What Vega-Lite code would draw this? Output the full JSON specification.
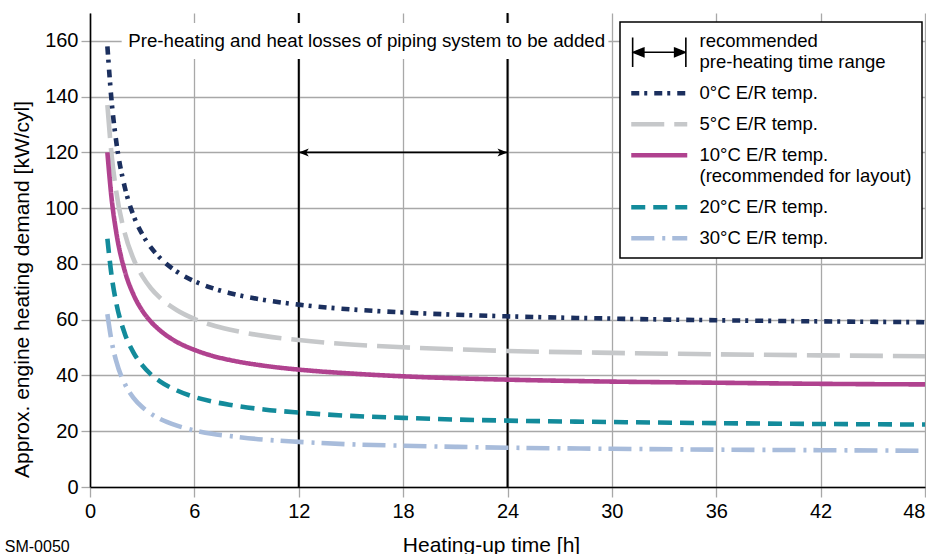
{
  "$schema": "https://vega.github.io/schema/vega-lite/v6.json",
  "width": 835,
  "height": 474,
  "autosize": {"type": "none"},
  "padding": {"left": 90, "top": 13, "right": 1, "bottom": 67},
  "config": {
    "font": "Liberation Sans",
    "view": {"stroke": null},
    "text": {"font": "Liberation Sans"}
  },
  "datasets": {
    "curves": [
      {"s":"5","h":1,"v":137},{"s":"5","h":1.25,"v":118.6},{"s":"5","h":1.5,"v":106.3},{"s":"5","h":2,"v":91},{"s":"5","h":2.5,"v":81.8},{"s":"5","h":3,"v":75.7},{"s":"5","h":3.5,"v":71.3},{"s":"5","h":4,"v":68},{"s":"5","h":5,"v":63.4},{"s":"5","h":6,"v":60.3},{"s":"5","h":7,"v":58.1},{"s":"5","h":8,"v":56.5},{"s":"5","h":10,"v":54.2},{"s":"5","h":12,"v":52.7},{"s":"5","h":15,"v":51.1},{"s":"5","h":18,"v":50.1},{"s":"5","h":21,"v":49.4},{"s":"5","h":24,"v":48.8},{"s":"5","h":30,"v":48.1},{"s":"5","h":36,"v":47.6},{"s":"5","h":42,"v":47.2},{"s":"5","h":48,"v":46.9},
      {"s":"30","h":1,"v":62},{"s":"30","h":1.25,"v":52},{"s":"30","h":1.5,"v":45.3},{"s":"30","h":2,"v":37},{"s":"30","h":2.5,"v":32},{"s":"30","h":3,"v":28.7},{"s":"30","h":3.5,"v":26.3},{"s":"30","h":4,"v":24.5},{"s":"30","h":5,"v":22},{"s":"30","h":6,"v":20.3},{"s":"30","h":7,"v":19.1},{"s":"30","h":8,"v":18.3},{"s":"30","h":10,"v":17},{"s":"30","h":12,"v":16.2},{"s":"30","h":15,"v":15.3},{"s":"30","h":18,"v":14.8},{"s":"30","h":21,"v":14.4},{"s":"30","h":24,"v":14.1},{"s":"30","h":30,"v":13.7},{"s":"30","h":36,"v":13.4},{"s":"30","h":42,"v":13.2},{"s":"30","h":48,"v":13},
      {"s":"20","h":1,"v":89},{"s":"20","h":1.25,"v":75.4},{"s":"20","h":1.5,"v":66.3},{"s":"20","h":2,"v":55},{"s":"20","h":2.5,"v":48.2},{"s":"20","h":3,"v":43.7},{"s":"20","h":3.5,"v":40.4},{"s":"20","h":4,"v":38},{"s":"20","h":5,"v":34.6},{"s":"20","h":6,"v":32.3},{"s":"20","h":7,"v":30.7},{"s":"20","h":8,"v":29.5},{"s":"20","h":10,"v":27.8},{"s":"20","h":12,"v":26.7},{"s":"20","h":15,"v":25.5},{"s":"20","h":18,"v":24.8},{"s":"20","h":21,"v":24.2},{"s":"20","h":24,"v":23.8},{"s":"20","h":30,"v":23.3},{"s":"20","h":36,"v":22.9},{"s":"20","h":42,"v":22.6},{"s":"20","h":48,"v":22.4},
      {"s":"10","h":1,"v":120},{"s":"10","h":1.25,"v":103},{"s":"10","h":1.5,"v":91.7},{"s":"10","h":2,"v":77.5},{"s":"10","h":2.5,"v":69},{"s":"10","h":3,"v":63.3},{"s":"10","h":3.5,"v":59.3},{"s":"10","h":4,"v":56.3},{"s":"10","h":5,"v":52},{"s":"10","h":6,"v":49.2},{"s":"10","h":7,"v":47.1},{"s":"10","h":8,"v":45.6},{"s":"10","h":10,"v":43.5},{"s":"10","h":12,"v":42.1},{"s":"10","h":15,"v":40.7},{"s":"10","h":18,"v":39.7},{"s":"10","h":21,"v":39},{"s":"10","h":24,"v":38.5},{"s":"10","h":30,"v":37.8},{"s":"10","h":36,"v":37.4},{"s":"10","h":42,"v":37},{"s":"10","h":48,"v":36.8},
      {"s":"0","h":1,"v":158},{"s":"0","h":1.25,"v":137.8},{"s":"0","h":1.5,"v":124.3},{"s":"0","h":2,"v":107.5},{"s":"0","h":2.5,"v":97.4},{"s":"0","h":3,"v":90.7},{"s":"0","h":3.5,"v":85.9},{"s":"0","h":4,"v":82.3},{"s":"0","h":5,"v":77.2},{"s":"0","h":6,"v":73.8},{"s":"0","h":7,"v":71.4},{"s":"0","h":8,"v":69.6},{"s":"0","h":10,"v":67.1},{"s":"0","h":12,"v":65.4},{"s":"0","h":15,"v":63.7},{"s":"0","h":18,"v":62.6},{"s":"0","h":21,"v":61.8},{"s":"0","h":24,"v":61.2},{"s":"0","h":30,"v":60.4},{"s":"0","h":36,"v":59.8},{"s":"0","h":42,"v":59.4},{"s":"0","h":48,"v":59.1}
    ],
    "range": [{"s": "range", "h": 12, "h2": 24, "v": 120}],
    "bounds": [{"h": 12}, {"h": 24}]
  },
  "layer": [
    {
      "data": {"name": "bounds"},
      "mark": {"type": "rule", "color": "black", "strokeWidth": 2},
      "encoding": {"x": {"field": "h", "type": "quantitative"}}
    },
    {
      "data": {"values": [{}]},
      "mark": {"type": "rect", "fill": "white"},
      "encoding": {
        "x": {"datum": 1.82, "type": "quantitative"},
        "x2": {"datum": 29.8},
        "y": {"datum": 153.5, "type": "quantitative"},
        "y2": {"datum": 166.4}
      }
    },
    {
      "data": {"values": [{"t": "Pre-heating and heat losses of piping system to be added", "h": 2.2, "v": 160}]},
      "mark": {"type": "text", "align": "left", "baseline": "middle", "fontSize": 18.7, "color": "black"},
      "encoding": {
        "x": {"field": "h", "type": "quantitative"},
        "y": {"field": "v", "type": "quantitative"},
        "text": {"field": "t"}
      }
    },
    {
      "data": {"values": [{"t": "SM-0050", "h": -4.9, "v": -23.4}]},
      "mark": {"type": "text", "align": "left", "baseline": "alphabetic", "fontSize": 16, "color": "black"},
      "encoding": {
        "x": {"field": "h", "type": "quantitative", "scale": {"domain": [0, 48], "nice": false, "zero": false}},
        "y": {"field": "v", "type": "quantitative", "scale": {"domain": [0, 170], "nice": false}},
        "text": {"field": "t"}
      }
    },
    {
      "data": {"name": "curves"},
      "mark": {"type": "line", "strokeWidth": 4.6, "interpolate": "monotone"},
      "encoding": {
        "x": {
          "field": "h", "type": "quantitative",
          "scale": {"domain": [0, 48], "nice": false, "zero": false},
          "axis": {
            "title": "Heating-up time [h]",
            "values": [0, 6, 12, 18, 24, 30, 36, 42, 48],
            "grid": true, "gridColor": "#a8a8a8", "gridWidth": 1.3,
            "domainColor": "black", "domainWidth": 1.6,
            "tickColor": "#a8a8a8", "tickSize": 10, "tickWidth": 1.3,
            "labelFontSize": 20, "labelPadding": 4, "labelColor": "black", "labelFlush": false,
            "labelAlign": {"condition": {"test": "datum.value === 48", "value": "right"}, "value": "center"},
            "titleFontSize": 21, "titleFontWeight": "normal", "titleColor": "black",
            "titleX": 401, "titleY": 64, "titleBaseline": "alphabetic", "titleAnchor": "middle", "titleAlign": "center"
          }
        },
        "y": {
          "field": "v", "type": "quantitative",
          "scale": {"domain": [0, 170], "nice": false},
          "axis": {
            "title": "Approx. engine heating demand [kW/cyl]",
            "values": [0, 10, 20, 30, 40, 50, 60, 70, 80, 90, 100, 110, 120, 130, 140, 150, 160, 170],
            "labelExpr": "datum.value % 20 === 0 && datum.value <= 160 ? datum.label : ''",
            "grid": true, "gridColor": "#a8a8a8", "gridWidth": 1.3,
            "domainColor": "black", "domainWidth": 1.6,
            "tickColor": "#a8a8a8", "tickSize": 9, "tickWidth": 1.3,
            "tickOpacity": {"condition": {"test": "datum.value % 20 !== 0 || datum.value > 160", "value": 0}, "value": 1},
            "labelFontSize": 20, "labelPadding": 3, "labelColor": "black",
            "titleFontSize": 21, "titleFontWeight": "normal", "titleColor": "black",
            "titleX": -62, "titleY": 276, "titleBaseline": "alphabetic", "titleAngle": 270, "titleAlign": "center"
          }
        },
        "color": {
          "field": "s", "type": "nominal",
          "scale": {
            "domain": ["range", "0", "5", "10", "20", "30"],
            "range": ["#000000", "#1b2f5e", "#c6c8ca", "#b0428f", "#138b9b", "#a8bcdb"]
          },
          "legend": {
            "title": null, "orient": "none", "legendX": 530, "legendY": 9, "direction": "vertical",
            "fillColor": "white", "strokeColor": "black", "padding": 10,
            "symbolType": "M-2,0L2,0", "symbolSize": 784, "symbolStrokeWidth": 4.6, "symbolOffset": 20,
            "labelOffset": 31, "labelFont": "Liberation Sans", "labelFontSize": 18.5, "labelColor": "black", "labelLimit": 400,
            "rowPadding": 12,
            "labelExpr": "datum.value === 'range' ? ['recommended', 'pre-heating time range'] : datum.value === '10' ? ['10°C E/R temp.', '(recommended for layout)'] : datum.value + '°C E/R temp.'",
            "encode": {
              "symbols": {"update": {
                "shape": {"signal": "datum.value === 'range' ? 'M-1.9,-0.26L-1.9,1.84M1.9,-0.26L1.9,1.84M-1.85,0.79L1.85,0.79M-1.85,0.79L-1.1,0.49L-1.1,1.09ZM1.85,0.79L1.1,0.49L1.1,1.09Z' : 'M-2,0L2,0'"},
                "fill": {"signal": "datum.value === 'range' ? 'black' : 'transparent'"},
                "strokeWidth": {"signal": "datum.value === 'range' ? 1.6 : 4.6"}
              }},
              "labels": {"update": {
                "lineHeight": {"value": 21}
              }},
              "legend": {"update": {"strokeWidth": {"value": 1.5}, "width": {"value": 296}, "height": {"value": 226}}}
            }
          }
        },
        "strokeDash": {
          "field": "s", "type": "nominal",
          "scale": {
            "domain": ["range", "0", "5", "10", "20", "30"],
            "range": [[1, 0], [8, 5, 3, 7], [33, 10], [1, 0], [14, 8], [23, 8, 3, 7]]
          },
          "legend": {
            "title": null, "orient": "none", "legendX": 530, "legendY": 9, "direction": "vertical",
            "fillColor": "white", "strokeColor": "black", "padding": 10,
            "symbolType": "M-2,0L2,0", "symbolSize": 784, "symbolStrokeWidth": 4.6, "symbolOffset": 20,
            "labelOffset": 31, "labelFont": "Liberation Sans", "labelFontSize": 18.5, "labelColor": "black", "labelLimit": 400,
            "rowPadding": 12,
            "labelExpr": "datum.value === 'range' ? ['recommended', 'pre-heating time range'] : datum.value === '10' ? ['10°C E/R temp.', '(recommended for layout)'] : datum.value + '°C E/R temp.'"
          }
        }
      }
    },
    {
      "data": {"name": "range"},
      "mark": {"type": "rule", "strokeWidth": 1.8},
      "encoding": {
        "x": {"field": "h", "type": "quantitative"},
        "x2": {"field": "h2"},
        "y": {"field": "v", "type": "quantitative"},
        "color": {"field": "s", "type": "nominal"},
        "strokeDash": {"field": "s", "type": "nominal"}
      }
    },
    {
      "data": {"name": "range"},
      "mark": {"type": "point", "shape": "M0,0L1,-0.4L0.75,0L1,0.4Z", "size": 400, "filled": true, "color": "black", "opacity": 1, "strokeWidth": 0},
      "encoding": {
        "x": {"field": "h", "type": "quantitative"},
        "y": {"field": "v", "type": "quantitative"}
      }
    },
    {
      "data": {"name": "range"},
      "mark": {"type": "point", "shape": "M0,0L-1,-0.4L-0.75,0L-1,0.4Z", "size": 400, "filled": true, "color": "black", "opacity": 1, "strokeWidth": 0},
      "encoding": {
        "x": {"field": "h2", "type": "quantitative"},
        "y": {"field": "v", "type": "quantitative"}
      }
    }
  ]
}
